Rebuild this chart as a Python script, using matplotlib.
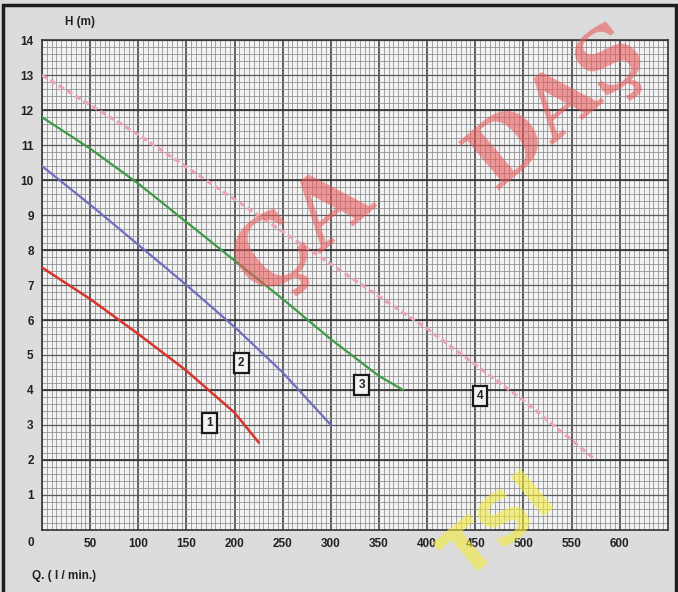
import matplotlib
matplotlib.use("Agg")
import matplotlib.pyplot as plt
from matplotlib.ticker import MultipleLocator
from matplotlib.patches import Rectangle

# pump curves, Q (l/min) vs H (m)
q1 = [0, 50, 100, 150, 200, 225]
h1 = [7.5, 6.6, 5.6, 4.55, 3.35, 2.5]
q2 = [0, 50, 100, 150, 200, 250, 300]
h2 = [10.4, 9.3, 8.15, 7.0, 5.8, 4.5, 3.0]
q3 = [0, 50, 100, 150, 200, 250, 300, 350, 375]
h3 = [11.8, 10.9, 9.9, 8.8, 7.7, 6.6, 5.45, 4.4, 4.0]
q4 = [0, 100, 200, 300, 400, 500, 575]
h4 = [13.0, 11.3, 9.45, 7.6, 5.75, 3.7, 2.0]

curve_names = ["1", "2", "3", "4"]
label_q = [174, 207, 332, 455]
label_h = [3.06, 4.77, 4.14, 3.83]

x_ticks = [50, 100, 150, 200, 250, 300, 350, 400, 450, 500, 550, 600]
y_ticks = [1, 2, 3, 4, 5, 6, 7, 8, 9, 10, 11, 12, 13, 14]

font = dict(fontsize=8.5, fontweight="bold", family="Liberation Sans", color="#222222")

fig = plt.figure(figsize=(6.78, 5.92), dpi=100)
fig.patch.set_facecolor("#dcdcdc")
ax = fig.add_axes([0.062, 0.105, 0.923, 0.827])
ax.set_facecolor("#f2f2f2")

ax.set_xlim(0, 650)
ax.set_ylim(0, 14)
ax.set_xticks(x_ticks)
ax.set_yticks(y_ticks)
ax.xaxis.set_minor_locator(MultipleLocator(5))
ax.yaxis.set_minor_locator(MultipleLocator(0.2))
ax.tick_params(which="both", length=0, pad=6)
for lab in ax.get_xticklabels() + ax.get_yticklabels():
    lab.set_fontfamily("Liberation Sans")
    lab.set_fontweight("bold")
    lab.set_fontsize(8.5)
    lab.set_color("#222222")

ax.grid(which="minor", color="#8c8c8c", lw=0.55)
ax.grid(which="major", axis="x", color="#383838", lw=1.1)
ax.grid(which="major", axis="y", color="#5a5a5a", lw=0.9)
for yv in range(2, 14, 2):
    ax.axhline(yv, color="#303030", lw=1.2, zorder=1)
for s in ax.spines.values():
    s.set_color("#333333")
    s.set_linewidth(1.2)
ax.set_axisbelow(True)

ax.plot(q1, h1, color="#d8352a", lw=1.8, zorder=3)
ax.plot(q2, h2, color="#6f6fc0", lw=1.6, zorder=3)
ax.plot(q3, h3, color="#3f9a45", lw=1.6, zorder=3)
ax.plot(q4, h4, color="#eaa3b4", lw=2.2, ls=(0, (2, 1.2)), zorder=3)

for name, lq, lh in zip(curve_names, label_q, label_h):
    ax.text(lq, lh, name, ha="center", va="center", zorder=5, **font,
            bbox=dict(boxstyle="square,pad=0.35", fc="#f4f4f4", ec="#1a1a1a", lw=1.6))

# corner zero and axis titles
ax.text(-12, -0.2, "0", ha="center", va="top", **font)
fig.text(80 / 678, 1 - 22 / 592, "H (m)", ha="center", va="center", **font)
fig.text(32 / 678, 1 - 576 / 592, "Q. ( l / min.)", ha="left", va="center", **font)

# watermark
fig.text(303 / 678, 1 - 232 / 592, "ÇA", ha="center", va="center", rotation=40,
         fontsize=68, fontweight="bold", family="DejaVu Serif", color="#e85a5a", alpha=0.6)
fig.text(558 / 678, 1 - 106 / 592, "DAŞ", ha="center", va="center", rotation=40,
         fontsize=62, fontweight="bold", family="DejaVu Serif", color="#e85a5a", alpha=0.6)
fig.text(500 / 678, 1 - 528 / 592, "TSI", ha="center", va="center", rotation=40,
         fontsize=50, fontweight="bold", family="DejaVu Sans", color="#f3ea3c", alpha=0.6)

fig.patches.append(Rectangle((0.004, -0.02), 0.993, 1.011,
                             transform=fig.transFigure, fill=False,
                             ec="#1e1e1e", lw=2.5))

fig.savefig("out.png", dpi=100, facecolor=fig.get_facecolor())
